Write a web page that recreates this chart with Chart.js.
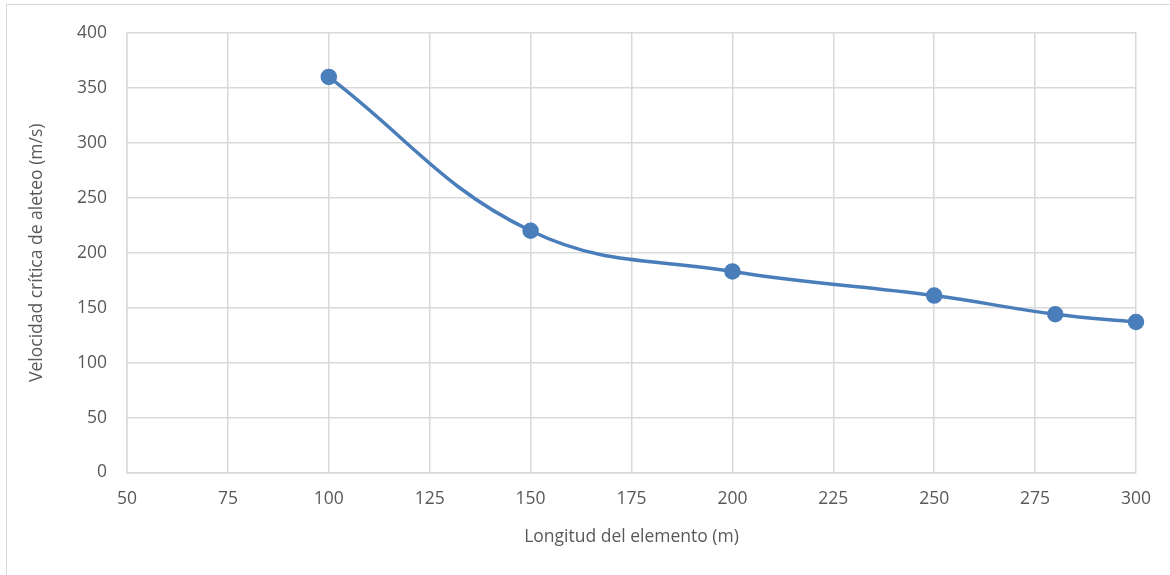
<!DOCTYPE html>
<html>
<head>
<meta charset="utf-8">
<script src="https://cdn.jsdelivr.net/npm/chart.js@4/dist/chart.umd.min.js"></script>
<style>
  html, body { margin: 0; padding: 0; background: #fff; overflow: hidden; }
  #wrap { position: relative; width: 1170px; height: 575px; }
  #frame { position: absolute; left: 6px; top: 4px; width: 1200px; height: 620px; border: 1px solid #d9d9d9; box-sizing: border-box; }
  canvas { position: absolute; left: 0; top: 0; }
</style>
</head>
<body>
<div id="wrap">
  <div id="frame"></div>
  <canvas id="c" width="1170" height="575"></canvas>
</div>
<script>
const longitudes = [100, 150, 200, 250, 280, 300];
const velocidades = [360, 220, 183, 161, 144, 137];
const xTitle = 'Longitud del elemento (m)';
const yTitle = 'Velocidad crítica de aleteo (m/s)';

const points = longitudes.map((x, i) => ({ x: x, y: velocidades[i] }));
const FONT = "'Open Sans', 'Liberation Sans', sans-serif";
const TXT = '#595959';
const GRID = '#d9d9d9';

new Chart(document.getElementById('c'), {
  type: 'scatter',
  data: {
    datasets: [{
      data: points,
      showLine: true,
      borderColor: '#4A7EBB',
      backgroundColor: '#4A7EBB',
      borderWidth: 3.5,
      pointRadius: 6.5,
      pointHoverRadius: 6.5,
      tension: 0.4,
      clip: false
    }]
  },
  options: {
    responsive: false,
    animation: false,
    devicePixelRatio: 1,
    layout: { padding: { left: 0, top: 33, right: 34, bottom: 0 } },
    plugins: { legend: { display: false }, tooltip: { enabled: false } },
    scales: {
      x: {
        type: 'linear',
        min: 50, max: 300,
        ticks: { stepSize: 25, color: TXT, font: { family: FONT, size: 17.5 }, padding: 16 },
        grid: { color: GRID, lineWidth: 1.5, drawTicks: false },
        border: { color: GRID, width: 1.5 },
        title: { display: true, text: xTitle, color: TXT, font: { family: FONT, size: 17.5 }, padding: { top: 8, bottom: 27 } },
        afterFit: s => { s.height = 575 - 472.5; }
      },
      y: {
        min: 0, max: 400,
        ticks: { stepSize: 50, color: TXT, font: { family: FONT, size: 17.5 }, padding: 20 },
        grid: { color: GRID, lineWidth: 1.5, drawTicks: false },
        border: { color: GRID, width: 1.5 },
        title: { display: true, text: yTitle, color: TXT, font: { family: FONT, size: 17.5 }, padding: { top: 27 } },
        afterFit: s => { s.width = 127; }
      }
    }
  }
});
</script>
</body>
</html>
